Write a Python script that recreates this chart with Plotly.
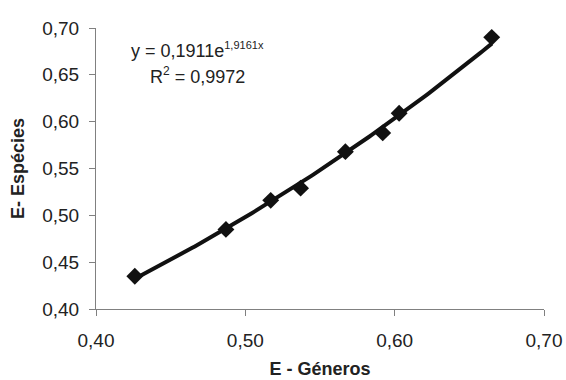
import numpy as np
import plotly.graph_objects as go

# Data
genus_E = [0.426, 0.487, 0.517, 0.537, 0.567, 0.592, 0.603, 0.665]
species_E = [0.435, 0.485, 0.516, 0.529, 0.568, 0.588, 0.609, 0.690]

# Exponential trend line given on the chart: y = 0,1911 e^(1,9161 x)
coef_a = 0.1911
coef_b = 1.9161
r2_text = "0,9972"

xt = np.linspace(min(genus_E), max(genus_E), 120)
yt = coef_a * np.exp(coef_b * xt)

x_ticks = [0.40, 0.50, 0.60, 0.70]
y_ticks = [0.40, 0.45, 0.50, 0.55, 0.60, 0.65, 0.70]

fig = go.Figure()
fig.add_trace(go.Scatter(x=xt, y=yt, mode="lines",
                         line=dict(color="#111111", width=4), showlegend=False,
                         hoverinfo="skip"))
fig.add_trace(go.Scatter(x=genus_E, y=species_E, mode="markers",
                         marker=dict(symbol="diamond", size=13, color="#111111"),
                         showlegend=False))

font = "Liberation Sans, Arial, sans-serif"
L, R, T, B = 96, 22, 28, 71
pw, ph = 566 - L - R, 380 - T - B


def px(x):
    return (x - L) / pw


def py(y):
    return 1 - (y - T) / ph


fig.update_layout(
    width=566, height=380,
    margin=dict(l=L, r=R, t=T, b=B),
    paper_bgcolor="white", plot_bgcolor="white",
    separators=", ",
    font=dict(family=font, color="#222222", size=19),
    xaxis=dict(range=[0.40, 0.70], tickvals=x_ticks, tickformat=".2f",
               showgrid=False, zeroline=False, showline=True, linecolor="#808080",
               linewidth=1, ticks="outside", ticklen=6, tickcolor="#808080",
               ticklabelstandoff=8, automargin=False,
               title=dict(text="<b>E - Géneros</b>", font=dict(size=18), standoff=12)),
    yaxis=dict(range=[0.40, 0.70], tickvals=y_ticks, tickformat=".2f",
               showgrid=False, zeroline=False, showline=True, linecolor="#808080",
               linewidth=1, ticks="outside", ticklen=6, tickcolor="#808080",
               ticklabelstandoff=6, automargin=False,
               title=dict(text="<b>E- Espécies</b>", font=dict(size=18), standoff=12)),
    annotations=[
        dict(x=px(197), y=py(50), xref="paper", yref="paper", showarrow=False,
             xanchor="center", yanchor="middle",
             text="y = 0,1911e<sup><span style='font-size:11px'>1,9161x</span></sup>",
             font=dict(size=18)),
        dict(x=px(197), y=py(75), xref="paper", yref="paper", showarrow=False,
             xanchor="center", yanchor="middle",
             text="R<sup><span style='font-size:12px'>2</span></sup> = " + r2_text,
             font=dict(size=18)),
    ],
)
fig.write_html("out.html")
